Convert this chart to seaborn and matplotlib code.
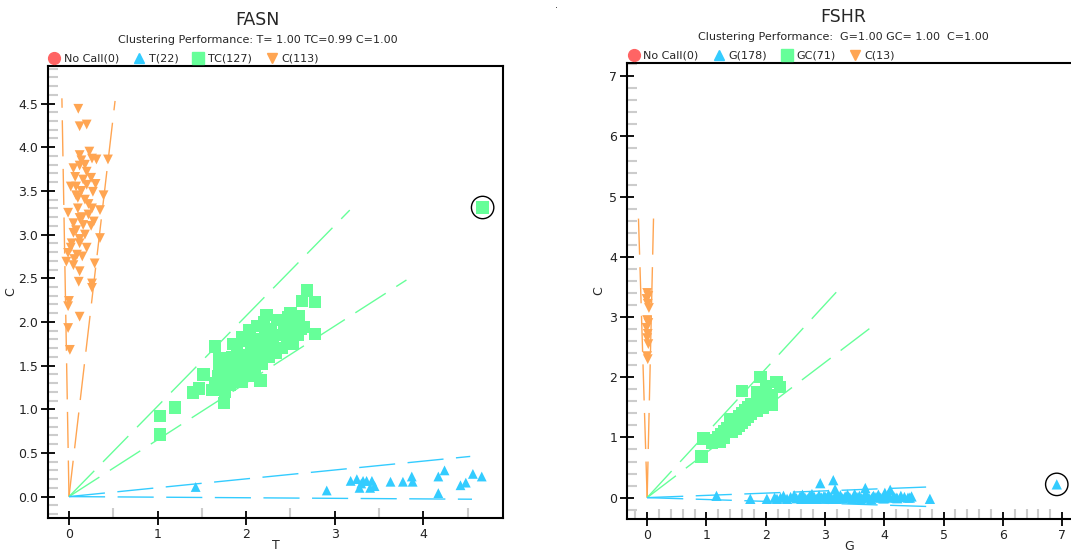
import matplotlib.pyplot as plt
import seaborn as sns
from matplotlib.lines import Line2D
from matplotlib.ticker import MultipleLocator, FormatStrFormatter

# ---- FASN (left panel) ----
fasn_t_x = [1.43, 2.91, 3.18, 3.25, 3.28, 3.32, 3.36, 3.40, 3.42, 3.30, 3.45,
            3.63, 3.77, 3.87, 3.88, 4.17, 4.24, 4.17, 4.42, 4.48, 4.56, 4.66]
fasn_t_y = [0.11, 0.07, 0.18, 0.20, 0.10, 0.18, 0.18, 0.10, 0.18, 0.15, 0.12,
            0.17, 0.17, 0.23, 0.17, 0.23, 0.30, 0.04, 0.13, 0.16, 0.26, 0.23]

fasn_tc_x = [1.03, 1.03, 1.20, 1.40, 1.47, 1.52, 1.65, 1.75, 2.16, 2.69, 2.63, 2.78,
             2.78, 2.65, 2.50, 2.59, 2.23, 2.33, 4.67,
             1.62, 1.65, 1.68, 1.70, 1.72, 1.75, 1.78, 1.80, 1.82, 1.84, 1.86, 1.88,
             1.90, 1.92, 1.94, 1.96, 1.98, 2.00, 2.02, 2.04, 2.06, 2.08, 2.10, 2.12,
             2.14, 2.16, 2.18, 2.20, 2.22, 2.24, 2.26, 2.28, 2.30, 2.32, 2.35, 2.38,
             2.40, 2.43, 2.46, 2.48, 2.50, 2.53, 2.56, 2.58, 2.62, 1.76, 1.95, 2.05,
             1.85, 2.00, 1.70]
fasn_tc_y = [0.92, 0.71, 1.02, 1.19, 1.24, 1.40, 1.72, 1.07, 1.33, 2.36, 2.24, 2.23,
             1.86, 1.94, 2.10, 2.06, 2.08, 1.65, 3.31,
             1.22, 1.30, 1.38, 1.45, 1.25, 1.33, 1.50, 1.40, 1.28, 1.60, 1.48, 1.35,
             1.70, 1.55, 1.42, 1.82, 1.62, 1.50, 1.38, 1.90, 1.72, 1.58, 1.45, 1.95,
             1.80, 1.66, 1.52, 2.00, 1.86, 1.72, 1.60, 1.92, 1.78, 1.65, 2.02, 1.85,
             1.70, 1.95, 1.80, 2.05, 1.88, 1.75, 1.98, 1.85, 1.92, 1.20, 1.32, 1.44,
             1.75, 1.78, 1.58]

fasn_c_x = [0.105, 0.12, 0.20, 0.12, 0.23, 0.26, 0.31, 0.44, 0.05, 0.12, 0.20, 0.07,
            0.16, 0.02, 0.20, 0.27, 0.39, 0.10, 0.18, 0.26, 0.35, -0.01, 0.12, 0.22,
            0.05, 0.16, 0.05, 0.35, 0.03, 0.12, 0.20, -0.01, 0.09, -0.03, 0.05, 0.12,
            0.29, 0.11, 0.26, 0.26, -0.01, 0.00, 0.12, -0.01, 0.01, 0.08, 0.14, 0.22,
            0.10, 0.15, 0.25, 0.08, 0.18, 0.12, 0.02, 0.15, 0.06, 0.18, 0.25, 0.30,
            0.14, 0.08, 0.28]
fasn_c_y = [4.44, 4.24, 4.26, 3.91, 3.95, 3.87, 3.86, 3.86, 3.76, 3.79, 3.72, 3.66,
            3.63, 3.55, 3.57, 3.49, 3.45, 3.42, 3.40, 3.30, 3.28, 3.25, 3.19, 3.23,
            3.13, 3.11, 3.02, 2.96, 2.90, 2.90, 2.85, 2.79, 2.77, 2.69, 2.65, 2.58,
            2.67, 2.46, 2.44, 2.39, 2.18, 2.24, 2.06, 1.93, 1.68, 3.55, 3.50, 3.35,
            3.30, 3.20, 3.10, 3.05, 3.00, 2.95, 2.85, 2.75, 2.72, 3.80, 3.65, 3.58,
            3.85, 3.45, 3.15]

fasn_bounds = {  # end points of cluster boundary lines drawn from the origin
    "C": [(-0.08, 4.56), (0.52, 4.53)],
    "TC": [(3.17, 3.28), (3.81, 2.48)],
    "T": [(4.53, 0.46), (4.55, -0.03)],
}
fasn_flag = (4.67, 3.31)

# ---- FSHR (right panel) ----
fshr_g_x = [1.17, 1.74, 2.02, 2.19, 2.15, 2.92, 3.14, 3.17, 3.68, 4.10, 4.01, 4.77,
            4.43, 6.91,
            2.25, 2.30, 2.36, 2.42, 2.48, 2.52, 2.58, 2.62, 2.66, 2.70, 2.74, 2.78,
            2.82, 2.86, 2.90, 2.94, 2.98, 3.02, 3.06, 3.10, 3.14, 3.18, 3.22, 3.26,
            3.30, 3.34, 3.38, 3.42, 3.46, 3.50, 3.54, 3.58, 3.62, 3.66, 3.70, 3.74,
            3.78, 3.82, 3.86, 3.90, 3.94, 3.98, 4.02, 4.06, 4.10, 4.16, 4.22, 4.28,
            4.34, 4.40, 4.46, 2.60, 2.80, 3.00, 3.20, 3.40, 3.60, 3.80, 4.00, 4.20]
fshr_g_y = [0.03, -0.02, -0.02, -0.02, 0.00, 0.24, 0.29, 0.14, 0.16, 0.13, 0.08, -0.02,
            0.00, 0.22,
            0.00, 0.03, -0.02, 0.01, 0.04, -0.01, 0.02, 0.05, 0.00, -0.02, 0.03, 0.06,
            0.01, -0.02, 0.04, 0.00, 0.02, -0.01, 0.05, 0.01, -0.02, 0.03, 0.00, 0.04,
            -0.01, 0.02, 0.05, 0.00, -0.02, 0.06, 0.01, 0.03, -0.01, 0.02, 0.04, 0.00,
            -0.02, 0.03, 0.01, 0.05, 0.00, -0.01, 0.02, 0.04, 0.00, 0.02, -0.01, 0.03,
            0.01, 0.00, 0.02, -0.02, 0.00, 0.02, -0.02, 0.01, -0.02, 0.01, -0.01, 0.00]

fshr_gc_x = [0.92, 0.95, 1.09, 1.15, 1.20, 1.25, 1.30, 1.35, 1.30, 1.40, 1.45, 1.42,
             1.50, 1.50, 1.55, 1.55, 1.60, 1.60, 1.65, 1.65, 1.70, 1.70, 1.75, 1.75,
             1.80, 1.85, 1.85, 1.90, 1.90, 1.95, 1.95, 2.00, 2.00, 2.05, 2.10, 2.10,
             1.60, 1.91, 2.18, 2.24, 1.85, 2.00, 1.40, 1.22]
fshr_gc_y = [0.68, 0.98, 0.91, 0.95, 1.00, 1.05, 1.10, 1.15, 1.00, 1.20, 1.25, 1.10,
             1.30, 1.15, 1.35, 1.20, 1.40, 1.25, 1.45, 1.30, 1.50, 1.35, 1.55, 1.40,
             1.50, 1.60, 1.45, 1.65, 1.55, 1.70, 1.50, 1.75, 1.60, 1.65, 1.70, 1.55,
             1.77, 2.00, 1.92, 1.84, 1.75, 1.85, 1.30, 0.92]

fshr_c_x = [0.00, 0.02, -0.01, 0.01, 0.03, 0.00, 0.02, -0.01, 0.01, 0.00, 0.02, 0.00, 0.01]
fshr_c_y = [3.40, 3.35, 3.30, 3.22, 3.15, 2.95, 2.90, 2.82, 2.72, 2.65, 2.55, 2.35, 2.30]

fshr_bounds = {
    "C": [(-0.15, 4.75), (0.11, 4.75)],
    "GC": [(3.30, 3.53), (3.90, 2.92)],
    "G": [(4.82, 0.18), (4.82, -0.15)],
}
fshr_flag = (6.91, 0.22)

RED = "#FF6464"
BLUE = "#33CCFF"
GREEN = "#66FF99"
ORANGE = "#FFA552"

sns.set_style("white")
plt.rcParams["font.family"] = ["DejaVu Sans"]

W, H = 1071, 556
fig = plt.figure(figsize=(W / 100, H / 100), dpi=100)
ax1 = fig.add_axes([48 / W, 38 / H, 455 / W, 452 / H])
ax2 = fig.add_axes([627 / W, 37 / H, 444 / W, 456 / H])


def draw_panel(ax, groups, bounds, flag):
    for key, xs, ys, marker, color, size in groups:
        sns.scatterplot(x=xs, y=ys, marker=marker, color=color, s=size,
                        edgecolor="none", linewidth=0, ax=ax, zorder=3)
        for bx, by in bounds[key]:
            ax.plot([0, bx], [0, by], color=color, lw=1.0, dashes=(26, 9), zorder=2)
    ax.scatter([flag[0]], [flag[1]], s=260, facecolors="none",
               edgecolors="black", linewidths=1.0, zorder=4)
    for sp in ax.spines.values():
        sp.set_color("black")
        sp.set_linewidth(1.5)
    ax.tick_params(which="major", direction="inout", length=10, width=1.3,
                   color="black", labelsize=9, pad=2, bottom=True, left=True,
                   labelcolor="#222222")
    ax.tick_params(which="minor", direction="in", length=7, width=1.5,
                   color="#cccccc", bottom=True, left=True)


draw_panel(ax1, [
    ("C", fasn_c_x, fasn_c_y, "v", ORANGE, 50),
    ("TC", fasn_tc_x, fasn_tc_y, "s", GREEN, 80),
    ("T", fasn_t_x, fasn_t_y, "^", BLUE, 50),
], fasn_bounds, fasn_flag)
ax1.set_xlim(-0.237, 4.90)
ax1.set_ylim(-0.245, 4.93)
ax1.xaxis.set_major_locator(MultipleLocator(1))
ax1.xaxis.set_minor_locator(MultipleLocator(0.5))
ax1.yaxis.set_major_locator(MultipleLocator(0.5))
ax1.yaxis.set_minor_locator(MultipleLocator(0.1))
ax1.yaxis.set_major_formatter(FormatStrFormatter("%.1f"))
ax1.set_xlabel("T", fontsize=9, labelpad=-1)
ax1.set_ylabel("C", fontsize=9, labelpad=1)

draw_panel(ax2, [
    ("C", fshr_c_x, fshr_c_y, "v", ORANGE, 50),
    ("GC", fshr_gc_x, fshr_gc_y, "s", GREEN, 80),
    ("G", fshr_g_x, fshr_g_y, "^", BLUE, 55),
], fshr_bounds, fshr_flag)
ax2.spines["right"].set_visible(False)
ax2.set_xlim(-0.34, 7.15)
ax2.set_ylim(-0.355, 7.22)
ax2.xaxis.set_major_locator(MultipleLocator(1))
ax2.xaxis.set_minor_locator(MultipleLocator(0.2))
ax2.yaxis.set_major_locator(MultipleLocator(1))
ax2.yaxis.set_minor_locator(MultipleLocator(0.2))
ax2.set_xlabel("G", fontsize=9, labelpad=-1)
ax2.set_ylabel("C", fontsize=9, labelpad=3)


def legend(ax, labels, x0):
    handles = [
        Line2D([], [], marker="o", color=RED, ls="", markersize=8.5),
        Line2D([], [], marker="^", color=BLUE, ls="", markersize=7),
        Line2D([], [], marker="s", color=GREEN, ls="", markersize=8),
        Line2D([], [], marker="v", color=ORANGE, ls="", markersize=7),
    ]
    ax.legend(handles, labels, loc="lower left", bbox_to_anchor=(x0, 1.0),
              ncol=4, frameon=False, fontsize=8, handlelength=1.0,
              handletextpad=0.35, columnspacing=1.3, borderpad=0.1,
              borderaxespad=0.1)


legend(ax1, ["No Call(0)", "T(22)", "TC(127)", "C(113)"], -0.003)
legend(ax2, ["No Call(0)", "G(178)", "GC(71)", "C(13)"], -0.002)

fig.text(257 / W, 1 - 20 / H, "FASN", ha="center", va="center", fontsize=12.5)
fig.text(258 / W, 1 - 40 / H, "Clustering Performance: T= 1.00 TC=0.99 C=1.00",
         ha="center", va="center", fontsize=8)
fig.text(843 / W, 1 - 17.5 / H, "FSHR", ha="center", va="center", fontsize=12.5)
fig.text(843 / W, 1 - 37 / H, "Clustering Performance:  G=1.00 GC= 1.00  C=1.00",
         ha="center", va="center", fontsize=8)
fig.text(557 / W, 1 - 5 / H, ".", ha="center", va="center", fontsize=7)

fig.savefig("out.png", dpi=100)
